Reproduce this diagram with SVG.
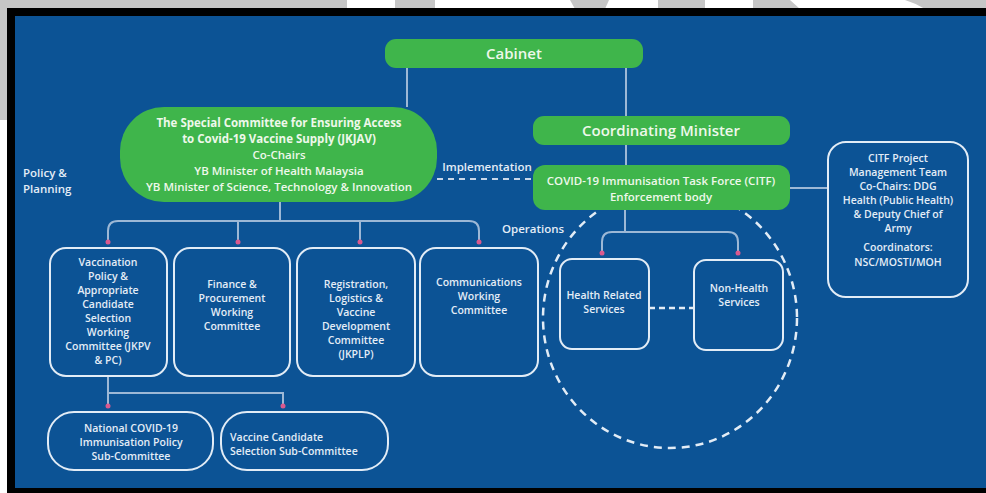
<svg xmlns="http://www.w3.org/2000/svg" width="986" height="493" viewBox="0 0 986 493">
<style>
text{font-family:"Open Sans","Liberation Sans",sans-serif;fill:#e4edf7;text-anchor:middle}
.g text{fill:#eef8ea}
.gb{fill:#3fb54b}
.ob{fill:none;stroke:#e2ecf6;stroke-width:2}
.ln{fill:none;stroke:#9db8d6;stroke-width:2}
.dash{fill:none;stroke:#e2ecf6;stroke-width:2.5;stroke-dasharray:8 6}
.dot{fill:#d9598f}
.s11{font-size:10.5px;font-weight:600}
.s12{font-size:11.5px;font-weight:600}
</style>
<rect width="986" height="493" fill="#ffffff"/>
<g fill="#c6c6c6">
<rect x="0" y="0" width="347" height="9"/>
<polygon points="395,0 435,0 435,9 395,9 395,6"/>
<polygon points="570,0 609,0 605,9 575,9"/>
<rect x="658" y="0" width="47" height="9"/>
<path d="M753,0 H790 L800,9 H753 Z"/>
<path d="M905,0 H986 V9 H925 Q915,3 905,0 Z"/>
<rect x="0" y="0" width="7" height="120"/>
</g>
<rect x="7" y="8" width="979" height="485" fill="#000"/>
<rect x="15" y="16" width="971" height="472" fill="#0c5395"/>

<g id="connectors">
<path class="ln" d="M407,68 V107"/>
<path class="ln" d="M626,68 V165"/>
<path class="ln" d="M625,210 V232"/>
<path class="ln" d="M602,253 V242 Q602,232 612,232 H728 Q738,232 738,242 V253"/>
<path class="ln" d="M790,188 H829"/>
<path class="ln" d="M280,202 V221"/>
<path class="ln" d="M108,241 V231 Q108,221 118,221 H469 Q479,221 479,231 V241"/>
<path class="ln" d="M238,221 V241 M360,221 V241"/>
<path class="ln" d="M108,376 V393 H283 V405"/>
<path class="ln" d="M108,393 V405"/>
<path d="M437,179 H533" fill="none" stroke="#c9d8ea" stroke-width="1.8" stroke-dasharray="6 5"/>
<path d="M649,308 H694" fill="none" stroke="#e2ecf6" stroke-width="2.5" stroke-dasharray="6 4"/>
<g class="dot">
<circle cx="108" cy="242" r="2.5"/><circle cx="238" cy="242" r="2.5"/><circle cx="360" cy="242" r="2.5"/><circle cx="479" cy="242" r="2.5"/>
<circle cx="602" cy="253" r="2.5"/><circle cx="738" cy="253" r="2.5"/>
<circle cx="108" cy="406" r="2.5"/><circle cx="283" cy="406" r="2.5"/>
</g>
</g>

<g id="operations-circle">
<ellipse class="dash" cx="670" cy="318" rx="127" ry="130"/>
</g>

<text x="23" y="177" class="s12" style="text-anchor:start">Policy &amp;</text>
<text x="23" y="193" class="s12" style="text-anchor:start">Planning</text>
<text x="487" y="171" class="s12">Implementation</text>
<text x="533" y="233" class="s12">Operations</text>

<g id="cabinet" class="g">
<rect class="gb" x="385" y="39" width="258" height="29" rx="11"/>
<text x="514" y="59" style="font-size:15px;font-weight:600">Cabinet</text>
</g>

<g id="jkjav" class="g">
<rect class="gb" x="120" y="107" width="317" height="95" rx="44"/>
<text x="279" y="127" class="s12" style="font-weight:700">The Special Committee for Ensuring Access</text>
<text x="279" y="143" class="s12" style="font-weight:700">to Covid-19 Vaccine Supply (JKJAV)</text>
<text x="279" y="159" class="s12">Co-Chairs</text>
<text x="279" y="175" class="s12">YB Minister of Health Malaysia</text>
<text x="279" y="191" class="s12">YB Minister of Science, Technology &amp; Innovation</text>
</g>

<g id="coordinating-minister" class="g">
<rect class="gb" x="533" y="116" width="257" height="29" rx="11"/>
<text x="661" y="136" style="font-size:15px;font-weight:600">Coordinating Minister</text>
</g>

<g id="citf" class="g">
<rect class="gb" x="533" y="165" width="257" height="45" rx="12"/>
<text x="661" y="185" class="s12">COVID-19 Immunisation Task Force (CITF)</text>
<text x="661" y="201" class="s12">Enforcement body</text>
</g>

<g id="citf-pmt">
<rect class="ob" x="828" y="142" width="140" height="155" rx="18"/>
<text x="898" y="162" class="s11">CITF Project</text>
<text x="898" y="176" class="s11">Management Team</text>
<text x="898" y="190" class="s11">Co-Chairs: DDG</text>
<text x="898" y="204" class="s11">Health (Public Health)</text>
<text x="898" y="218" class="s11">&amp; Deputy Chief of</text>
<text x="898" y="232" class="s11">Army</text>
<text x="898" y="251" class="s11">Coordinators:</text>
<text x="898" y="266" class="s11">NSC/MOSTI/MOH</text>
</g>

<g id="jkpv">
<rect class="ob" x="50" y="248" width="117" height="128" rx="16"/>
<text x="108" y="266" class="s11">Vaccination</text>
<text x="108" y="280" class="s11">Policy &amp;</text>
<text x="108" y="294" class="s11">Appropriate</text>
<text x="108" y="308" class="s11">Candidate</text>
<text x="108" y="322" class="s11">Selection</text>
<text x="108" y="336" class="s11">Working</text>
<text x="108" y="350" class="s11">Committee (JKPV</text>
<text x="108" y="364" class="s11">&amp; PC)</text>
</g>

<g id="finance">
<rect class="ob" x="174" y="248" width="116" height="128" rx="16"/>
<text x="232" y="288" class="s11">Finance &amp;</text>
<text x="232" y="302" class="s11">Procurement</text>
<text x="232" y="316" class="s11">Working</text>
<text x="232" y="330" class="s11">Committee</text>
</g>

<g id="jkplp">
<rect class="ob" x="297" y="248" width="118" height="128" rx="16"/>
<text x="356" y="288" class="s11">Registration,</text>
<text x="356" y="302" class="s11">Logistics &amp;</text>
<text x="356" y="316" class="s11">Vaccine</text>
<text x="356" y="330" class="s11">Development</text>
<text x="356" y="344" class="s11">Committee</text>
<text x="356" y="358" class="s11">(JKPLP)</text>
</g>

<g id="communications">
<rect class="ob" x="420" y="248" width="118" height="128" rx="16"/>
<text x="479" y="286" class="s11">Communications</text>
<text x="479" y="300" class="s11">Working</text>
<text x="479" y="314" class="s11">Committee</text>
</g>

<g id="health-related">
<rect class="ob" x="560" y="259" width="89" height="90" rx="12"/>
<text x="604" y="299" class="s11">Health Related</text>
<text x="604" y="313" class="s11">Services</text>
</g>

<g id="non-health">
<rect class="ob" x="694" y="260" width="89" height="90" rx="12"/>
<text x="739" y="292" class="s11">Non-Health</text>
<text x="739" y="306" class="s11">Services</text>
</g>

<g id="national-policy-sub">
<rect class="ob" x="48" y="412" width="165" height="58" rx="26"/>
<text x="131" y="432" class="s11">National COVID-19</text>
<text x="131" y="446" class="s11">Immunisation Policy</text>
<text x="131" y="460" class="s11">Sub-Committee</text>
</g>

<g id="vaccine-selection-sub">
<rect class="ob" x="221" y="412" width="167" height="58" rx="26"/>
<text x="230" y="441" class="s11" style="text-anchor:start">Vaccine Candidate</text>
<text x="230" y="455" class="s11" style="text-anchor:start">Selection Sub-Committee</text>
</g>
</svg>
